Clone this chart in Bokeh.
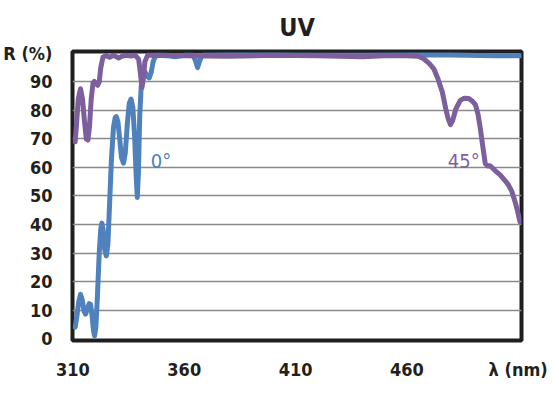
from bokeh.plotting import figure
from bokeh.models import FixedTicker, Range1d, Label
from bokeh.embed import file_html
from bokeh.resources import INLINE

# 0° curve (wavelength nm, reflectance %)
wl_0 = [311.0, 311.8, 312.6, 313.4, 314.2, 315.0, 315.7, 316.5, 317.3, 317.9,
        318.6, 319.2, 319.7, 320.3, 321.0, 321.8, 322.5, 323.0, 323.6, 324.3,
        325.0, 325.7, 326.5, 327.3, 328.2, 329.0, 329.5, 330.2, 331.0, 331.8,
        332.7, 333.5, 334.5, 335.3, 336.1, 336.9, 337.7, 338.4, 338.9, 339.4,
        340.0, 340.7, 341.5, 342.3, 343.2, 344.3, 345.2, 346.0, 346.8, 348.0,
        352.0, 356.0, 360.0, 364.0, 365.0, 366.0, 367.0, 368.0, 380.0, 400.0,
        420.0, 440.0, 460.0, 480.0, 500.0, 511.5]
r_0 = [4, 8, 13, 15.5, 13.5, 9.5, 8.6, 10.5, 12.3, 12,
       8, 3, 1, 4, 15, 30, 38.5, 40.5, 38, 31,
       29, 33, 48, 63, 74, 77.5, 77.8, 76, 70, 63.5,
       61.5, 65, 76, 82.5, 84, 81, 71, 57, 49.5, 58,
       78, 89, 92.8, 93.5, 92, 91.4, 93.5, 97, 98.7, 99.3,
       99.2, 98.8, 99.3, 99.3, 97.5, 95, 97.5, 99.3, 99.4, 99.4,
       99.3, 99.3, 99.4, 99.4, 99.2, 99.2]

# 45° curve
wl_45 = [311.0, 311.6, 312.4, 313.4, 314.3, 315.2, 316.0, 316.7, 317.4, 318.2,
         319.0, 319.6, 320.4, 321.1, 321.8, 322.5, 323.5, 325.0, 326.5, 328.3,
         330.5, 332.0, 333.5, 336.0, 338.0, 339.5, 340.3, 341.0, 341.6, 342.3,
         343.5, 350.0, 360.0, 380.0, 400.0, 420.0, 440.0, 450.0, 460.0, 465.0,
         467.6, 470.0, 472.1, 474.0, 475.9, 477.5, 478.6, 479.6, 480.6, 482.0,
         484.0, 485.8, 487.8, 489.5, 490.8, 492.0, 493.0, 494.0, 495.2, 496.3,
         497.4, 499.5, 501.9, 504.0, 505.6, 507.2, 508.6, 509.8, 510.8]
r_45 = [69, 75, 84, 87.6, 84, 76, 70, 69.6, 74, 84,
        89.5, 90.2, 89.5, 88.8, 90, 95, 98.7, 99.2, 98.6, 99.3,
        98.4, 99, 99.3, 99.1, 99.3, 98, 93, 88, 91, 97,
        99.3, 99.3, 99.2, 99.0, 99.3, 99.2, 98.8, 99.2, 99.2, 99.0,
        98.1, 96.5, 94.6, 91, 86.5, 80.5, 77, 75, 76.5, 80.5,
        83.5, 84.3, 84.2, 83.2, 82, 78.5, 73.7, 68, 61.4, 60.5,
        60.6, 59, 57.4, 55.5, 53.9, 51.5, 48, 44.5, 41]

x_ticks = [310, 360, 410, 460, 510]
x_tick_labels = {510: "λ (nm)"}
y_ticks = [0, 10, 20, 30, 40, 50, 60, 70, 80, 90, 100]
y_tick_labels = {100: "R (%)"}

FONT = "'DejaVu Sans Condensed', 'Liberation Sans Narrow', 'Roboto Condensed', Roboto, sans-serif"
DARK = "#231f20"
BLUE = "#4f81bd"
PURPLE = "#7d5f9e"

p = figure(width=559, height=398, output_backend="svg", toolbar_location=None,
           x_range=Range1d(309.8, 511.5), y_range=Range1d(-0.66, 100.65),
           min_border_left=68, min_border_right=38, min_border_top=50,
           min_border_bottom=58)
p.title.text = "UV"
p.title.align = "center"
p.title.text_font = FONT
p.title.text_font_size = "25px"
p.title.text_font_style = "bold"
p.title.text_color = DARK
p.title.standoff = 20

p.outline_line_color = "#1f1f1f"
p.outline_line_width = 4
p.outline_line_alpha = 1

for ax in (p.xaxis[0], p.yaxis[0]):
    ax.axis_line_color = None
    ax.major_tick_line_color = None
    ax.minor_tick_line_color = None
    ax.major_label_text_font = FONT
    ax.major_label_text_font_size = "18px"
    ax.major_label_text_font_style = "bold"
    ax.major_label_text_color = DARK

p.xaxis.ticker = FixedTicker(ticks=x_ticks)
p.xaxis.major_label_overrides = x_tick_labels
p.xaxis.major_label_standoff = 12
p.yaxis.ticker = FixedTicker(ticks=y_ticks)
p.yaxis.major_label_overrides = y_tick_labels
p.yaxis.major_label_standoff = 14

p.xgrid.grid_line_color = None
p.ygrid.ticker = FixedTicker(ticks=y_ticks[1:-1])
p.ygrid.grid_line_color = "#8a8a8a"
p.ygrid.grid_line_width = 1.5

p.line(wl_0, r_0, line_color=BLUE, line_width=5, line_join="round", line_cap="round")
p.line(wl_45, r_45, line_color=PURPLE, line_width=5, line_join="round", line_cap="round")

p.add_layout(Label(x=345.0, y=62.3, text="0°", text_color=BLUE, text_font=FONT,
                   text_font_size="20px", text_baseline="alphabetic"))
p.add_layout(Label(x=478.4, y=62.3, text="45°", text_color=PURPLE, text_font=FONT,
                   text_font_size="20px", text_baseline="alphabetic"))

open("out.html", "w").write(file_html(p, INLINE))
